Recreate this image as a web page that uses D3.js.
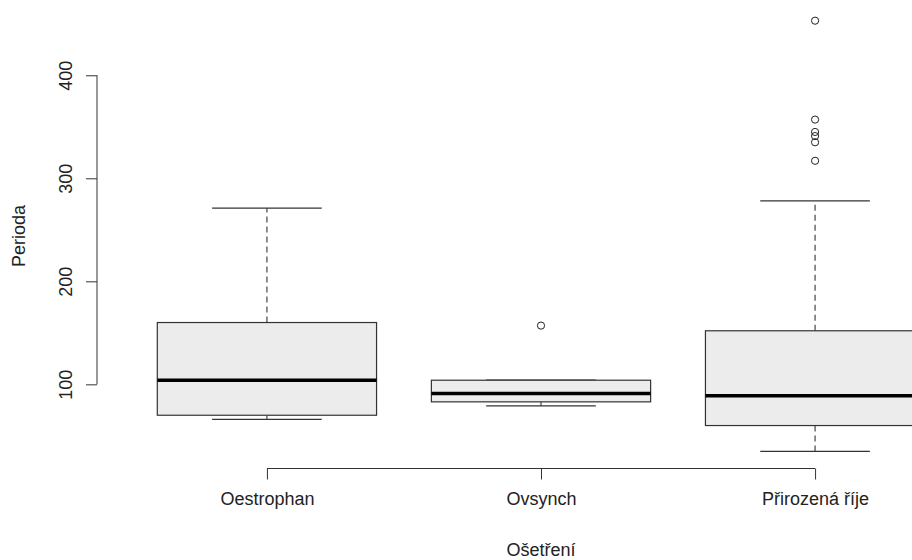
<!DOCTYPE html>
<html>
<head>
<meta charset="utf-8">
<script src="https://cdn.jsdelivr.net/npm/d3@7"></script>
<style>
  body { margin: 0; background: #fff; }
  text { font-family: "Liberation Sans", Arial, sans-serif; fill: #222; }
</style>
</head>
<body>
<svg id="chart"></svg>
<script>
// data

var categories = ["Oestrophan", "Ovsynch", "Přirozená říje"];
var whiskerLow = [66, 79, 35];
var q1 = [70, 83, 60];
var median = [104, 91, 89];
var q3 = [160, 104, 152];
var whiskerHigh = [271, 104, 278];
var outliers = [[], [157], [453, 357, 345, 341, 335, 317]];
var yTicks = [100, 200, 300, 400];

// settings

var svgWidth = 912;
var svgHeight = 560;
var fontSize = 18;

var svg = d3.select('#chart')
            .attr('width', svgWidth)
            .attr('height', svgHeight);

// scales (R style: 4% padding around the data)
var x = d3.scaleLinear().domain([0.38, 3.62]).range([97, 985]);
var y = d3.scaleLinear().domain([18.3, 469.4]).range([468.5, 3.8]);

var boxHalf = x(1.4) - x(1);
var capHalf = x(1.2) - x(1);

var data = categories.map(function(c, i){
    return {
        name: c, pos: i + 1,
        lo: whiskerLow[i], q1: q1[i], med: median[i], q3: q3[i], hi: whiskerHigh[i],
        out: outliers[i]
    };
});

var plot = svg.append('g');

var groups = plot.selectAll('g.box')
                 .data(data)
                 .enter()
                 .append('g')
                 .attr('class', 'box');

// dashed whiskers
groups.selectAll('line.whisker')
      .data(function(d){ return [[d.q3, d.hi], [d.q1, d.lo]].map(function(p){ return {pos: d.pos, a: p[0], b: p[1]}; }); })
      .enter()
      .append('line')
      .attr('class', 'whisker')
      .attr('x1', function(d){ return x(d.pos); })
      .attr('x2', function(d){ return x(d.pos); })
      .attr('y1', function(d){ return y(d.a); })
      .attr('y2', function(d){ return y(d.b); })
      .attr('stroke', '#444')
      .attr('stroke-width', 1.2)
      .attr('stroke-dasharray', '6,4');

// staples
groups.selectAll('line.cap')
      .data(function(d){ return [d.lo, d.hi].map(function(v){ return {pos: d.pos, v: v}; }); })
      .enter()
      .append('line')
      .attr('class', 'cap')
      .attr('x1', function(d){ return x(d.pos) - capHalf; })
      .attr('x2', function(d){ return x(d.pos) + capHalf; })
      .attr('y1', function(d){ return y(d.v); })
      .attr('y2', function(d){ return y(d.v); })
      .attr('stroke', '#333')
      .attr('stroke-width', 1.3);

// box
groups.append('rect')
      .attr('x', function(d){ return x(d.pos) - boxHalf; })
      .attr('y', function(d){ return y(d.q3); })
      .attr('width', boxHalf * 2)
      .attr('height', function(d){ return y(d.q1) - y(d.q3); })
      .attr('fill', '#ececec')
      .attr('stroke', '#333')
      .attr('stroke-width', 1.2);

// median
groups.append('line')
      .attr('x1', function(d){ return x(d.pos) - boxHalf; })
      .attr('x2', function(d){ return x(d.pos) + boxHalf; })
      .attr('y1', function(d){ return y(d.med); })
      .attr('y2', function(d){ return y(d.med); })
      .attr('stroke', '#000')
      .attr('stroke-width', 3.5);

// outliers
groups.selectAll('circle')
      .data(function(d){ return d.out.map(function(v){ return {pos: d.pos, v: v}; }); })
      .enter()
      .append('circle')
      .attr('cx', function(d){ return x(d.pos); })
      .attr('cy', function(d){ return y(d.v); })
      .attr('r', 3.6)
      .attr('fill', 'none')
      .attr('stroke', '#222')
      .attr('stroke-width', 1);

// y axis
var yAxis = svg.append('g')
               .attr('transform', 'translate(97,0)')
               .call(d3.axisLeft(y).tickValues(yTicks).tickSize(11).tickPadding(0));
yAxis.select('.domain').remove();
yAxis.selectAll('line').attr('stroke', '#333');
yAxis.append('line')
     .attr('x1', 0).attr('x2', 0)
     .attr('y1', y(yTicks[0])).attr('y2', y(yTicks[yTicks.length - 1]))
     .attr('stroke', '#333');
yAxis.selectAll('.tick text')
     .attr('x', null).attr('dy', null)
     .attr('transform', 'translate(-25,0) rotate(-90)')
     .attr('text-anchor', 'middle')
     .style('font-size', fontSize + 'px')
     .style('font-family', '"Liberation Sans", Arial, sans-serif')
     .attr('fill', '#222');

// x axis
var xAxis = svg.append('g')
               .attr('transform', 'translate(0,468.5)')
               .call(d3.axisBottom(x).tickValues([1, 2, 3]).tickSize(11).tickPadding(13)
                     .tickFormat(function(d){ return categories[d - 1]; }));
xAxis.select('.domain').remove();
xAxis.selectAll('line').attr('stroke', '#333');
xAxis.append('line')
     .attr('x1', x(1)).attr('x2', x(3))
     .attr('y1', 0).attr('y2', 0)
     .attr('stroke', '#333');
xAxis.selectAll('.tick text')
     .style('font-size', fontSize + 'px')
     .style('font-family', '"Liberation Sans", Arial, sans-serif')
     .attr('fill', '#222');

// axis titles
svg.append('text')
   .attr('x', x(2))
   .attr('y', 556)
   .attr('text-anchor', 'middle')
   .style('font-size', fontSize + 'px')
   .text('Ošetření');

svg.append('text')
   .attr('transform', 'translate(25,' + y(243.9) + ') rotate(-90)')
   .attr('text-anchor', 'middle')
   .style('font-size', fontSize + 'px')
   .text('Perioda');
</script>
</body>
</html>
